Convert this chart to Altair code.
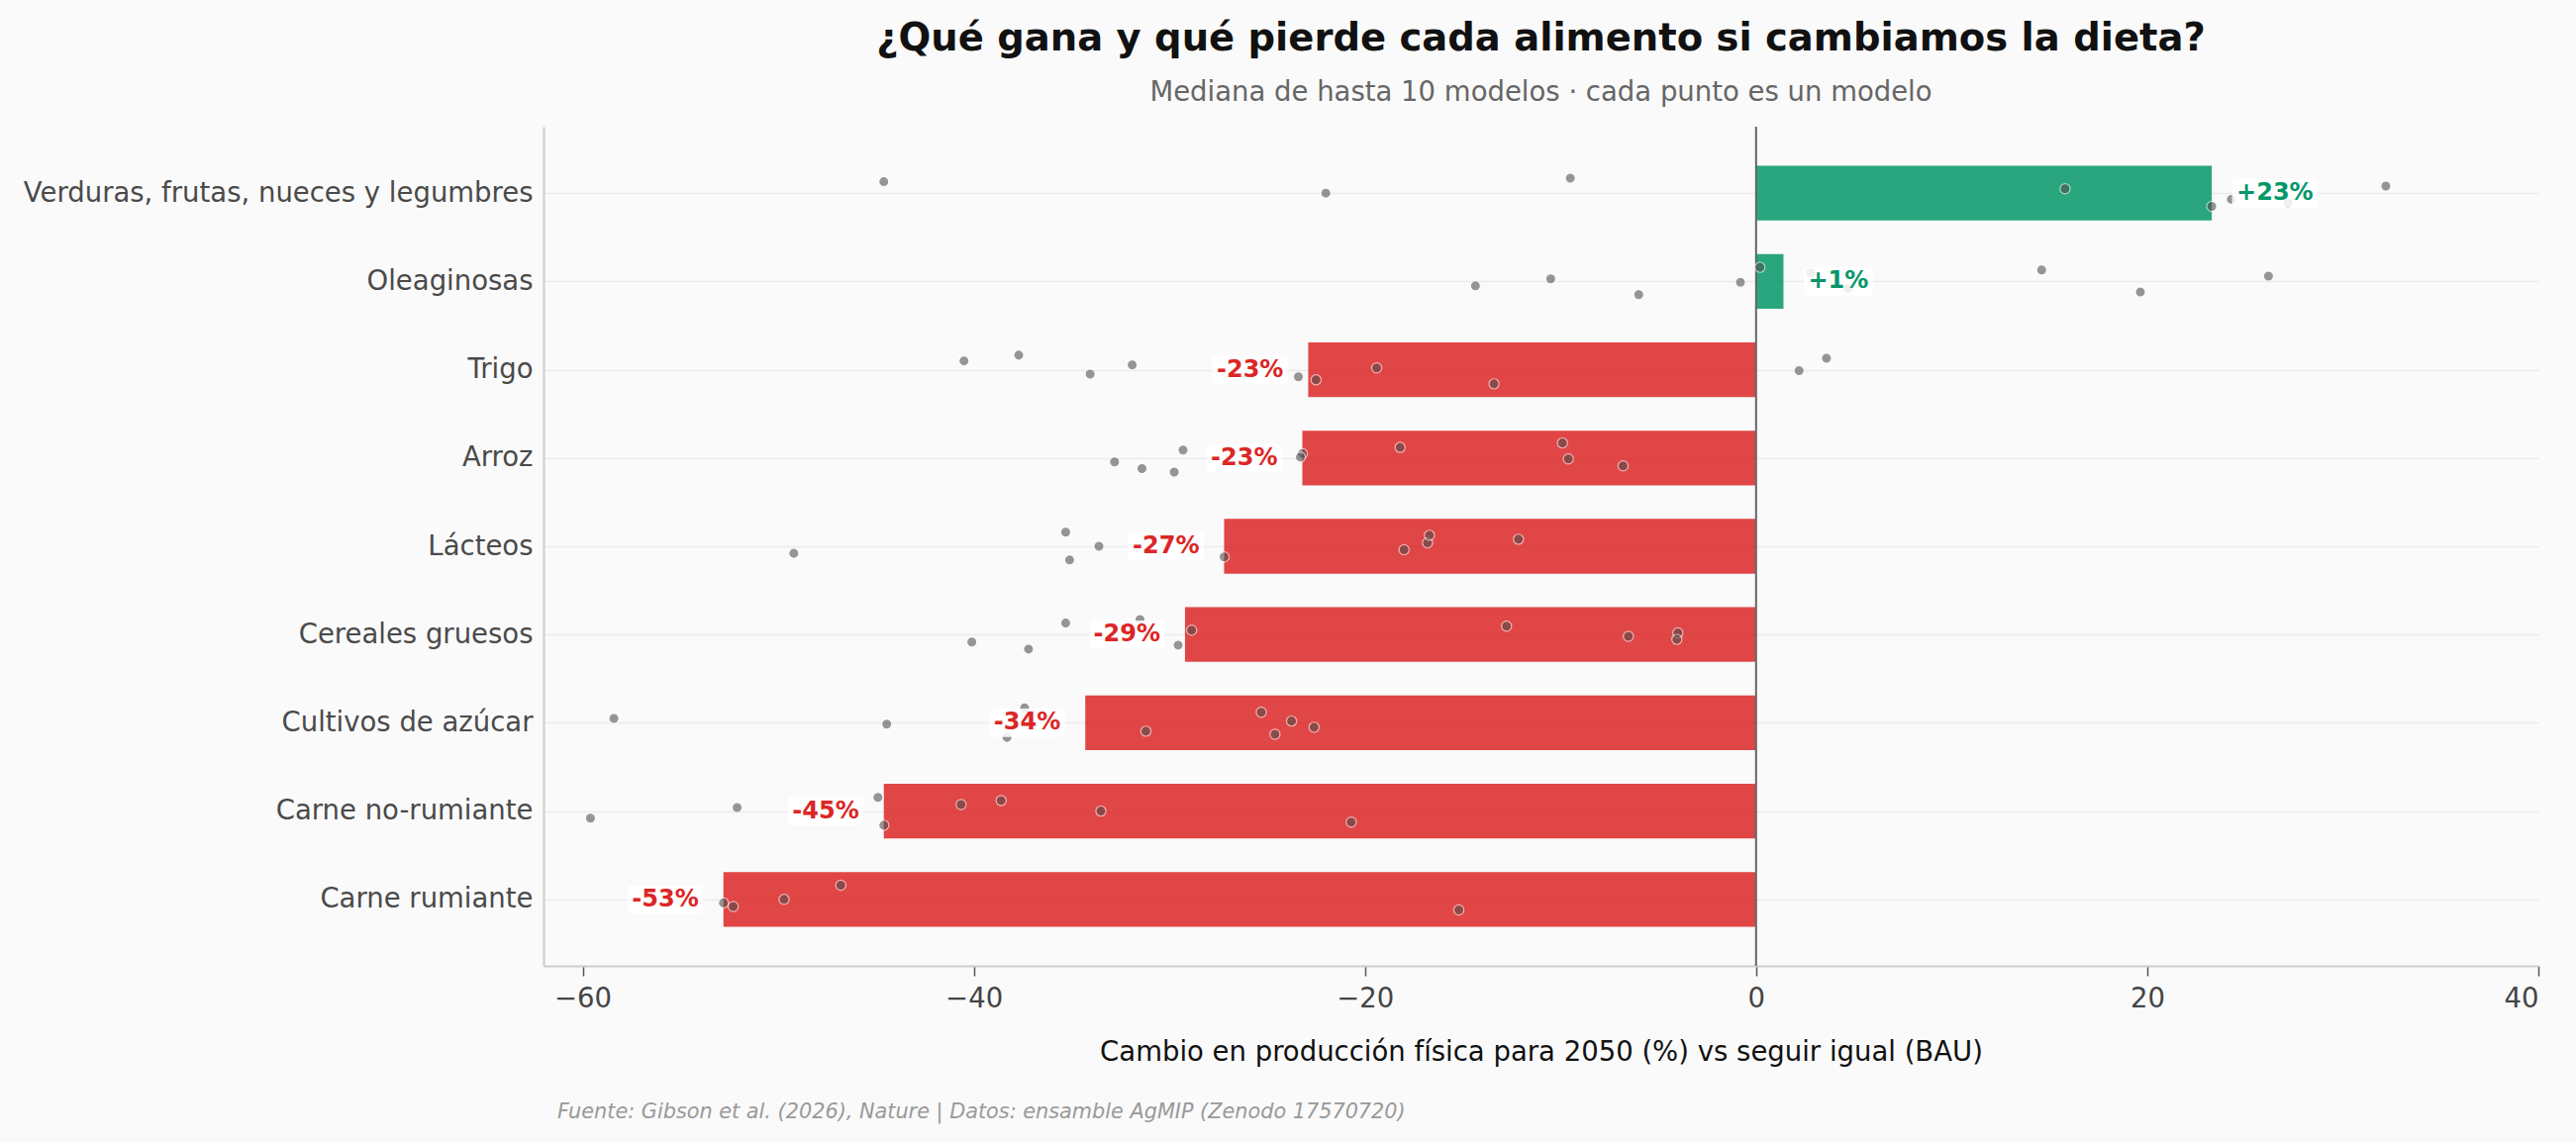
import json

import altair as alt
import pandas as pd

# --- data -----------------------------------------------------------------
categories = [
    "Verduras, frutas, nueces y legumbres",
    "Oleaginosas",
    "Trigo",
    "Arroz",
    "Lácteos",
    "Cereales gruesos",
    "Cultivos de azúcar",
    "Carne no-rumiante",
    "Carne rumiante",
]

# median change in physical production for 2050 (%) vs BAU
median_change = [23.3, 1.4, -22.9, -23.2, -27.2, -29.2, -34.3, -44.6, -52.8]

# individual model results (%) and their vertical jitter (row units)
verduras_models = [-44.6, -22.0, -9.5, 15.8, 23.3, 24.3, 27.2, 32.2]
verduras_jitter = [-0.13, 0.0, -0.17, -0.05, 0.15, 0.07, 0.11, -0.08]

oleaginosas_models = [-14.35, -10.5, -6.0, -0.8, 0.2, 2.8, 4.7, 14.6, 19.65, 26.2]
oleaginosas_jitter = [0.05, -0.03, 0.15, 0.01, -0.16, -0.10, 0.08, -0.13, 0.12, -0.06]

trigo_models = [-40.5, -37.7, -34.05, -31.9, -23.4, -22.5, -19.4, -13.4, 2.2, 3.6]
trigo_jitter = [-0.10, -0.165, 0.05, -0.055, 0.08, 0.115, -0.02, 0.16, 0.01, -0.13]

arroz_models = [-32.8, -31.4, -29.75, -29.3, -23.2, -23.3, -18.2, -9.9, -9.6, -6.8]
arroz_jitter = [0.045, 0.12, 0.16, -0.09, -0.05, -0.01, -0.12, -0.17, 0.01, 0.09]

lacteos_models = [-49.2, -35.3, -35.1, -33.6, -27.2, -18.0, -16.8, -16.7, -12.15]
lacteos_jitter = [0.08, -0.16, 0.155, 0.0, 0.12, 0.04, -0.04, -0.125, -0.08]

cereales_models = [-40.1, -37.2, -35.3, -31.5, -29.55, -28.86, -12.76, -6.53, -4.0, -4.05]
cereales_jitter = [0.085, 0.165, -0.13, -0.17, 0.12, -0.05, -0.095, 0.02, -0.02, 0.055]

azucar_models = [-58.4, -44.45, -37.4, -38.3, -31.2, -25.3, -24.6, -23.75, -22.6]
azucar_jitter = [-0.05, 0.015, -0.17, 0.165, 0.095, -0.12, 0.13, -0.02, 0.05]

no_rumiante_models = [-59.6, -52.1, -44.9, -44.6, -40.65, -38.6, -33.5, -20.7]
no_rumiante_jitter = [0.08, -0.04, -0.155, 0.16, -0.075, -0.12, 0.0, 0.125]

rumiante_models = [-52.8, -52.3, -49.7, -46.8, -15.2]
rumiante_jitter = [0.04, 0.08, 0.0, -0.16, 0.12]

x_ticks = [-60, -40, -20, 0, 20, 40]

TITLE = "¿Qué gana y qué pierde cada alimento si cambiamos la dieta?"
SUBTITLE = "Mediana de hasta 10 modelos · cada punto es un modelo"
X_TITLE = "Cambio en producción física para 2050 (%) vs seguir igual (BAU)"
SOURCE = "Fuente: Gibson et al. (2026), Nature | Datos: ensamble AgMIP (Zenodo 17570720)"

# --- tables ---------------------------------------------------------------
GREEN = "#059669"
RED = "#dc2626"
FONT = "DejaVu Sans"

bars = pd.DataFrame({
    "cat": categories,
    "idx": list(range(len(categories))),
    "median": median_change,
})
bars["dir"] = ["gana" if v >= 0 else "pierde" for v in median_change]
bars["label"] = [f"{round(v):+d}%" for v in median_change]

model_sets = [
    (verduras_models, verduras_jitter),
    (oleaginosas_models, oleaginosas_jitter),
    (trigo_models, trigo_jitter),
    (arroz_models, arroz_jitter),
    (lacteos_models, lacteos_jitter),
    (cereales_models, cereales_jitter),
    (azucar_models, azucar_jitter),
    (no_rumiante_models, no_rumiante_jitter),
    (rumiante_models, rumiante_jitter),
]
points = pd.DataFrame(
    [
        {"idx": i, "value": v, "jitter": j}
        for i, (vals, jit) in enumerate(model_sets)
        for v, j in zip(vals, jit)
    ]
)

# --- scales & axes --------------------------------------------------------
W, H = 2015, 848
BAR_HALF = 0.31

x_scale = alt.Scale(domain=[-62, 40], nice=False, zero=False)
y_scale = alt.Scale(domain=[-0.753, len(categories) - 1 + 0.753], reverse=True,
                    nice=False, zero=False)

label_array = "[" + ",".join(json.dumps(c, ensure_ascii=False) for c in categories) + "]"

x_axis = alt.Axis(
    values=x_ticks,
    title=X_TITLE,
    grid=False,
    tickSize=10,
    tickColor="#555555",
    tickWidth=1.5,
    labelFontSize=27.5,
    labelColor="#444444",
    labelPadding=9,
    domainColor="#cccccc",
    domainWidth=2,
    titleFontSize=27.5,
    titleFontWeight="normal",
    titleColor="#111111",
    titlePadding=27,
)
y_axis = alt.Axis(
    values=list(range(len(categories))),
    labelExpr=f"{label_array}[datum.value]",
    title=None,
    ticks=False,
    grid=True,
    gridColor="#ebebeb",
    gridWidth=1.5,
    labelFontSize=27.5,
    labelColor="#4a4a4a",
    labelPadding=11,
    labelLimit=1000,
    domainColor="#cccccc",
    domainWidth=2,
)

base_bars = alt.Chart(bars)

bar_layer = base_bars.transform_calculate(
    y0=f"datum.idx - {BAR_HALF}", y1=f"datum.idx + {BAR_HALF}", zero="0"
).mark_rect(opacity=0.85).encode(
    x=alt.X("zero:Q", scale=x_scale, axis=x_axis),
    x2="median:Q",
    y=alt.Y("y0:Q", scale=y_scale, axis=y_axis),
    y2="y1:Q",
    color=alt.Color("dir:N", scale=alt.Scale(domain=["gana", "pierde"], range=[GREEN, RED]),
                    legend=None),
)

zero_line = alt.Chart(pd.DataFrame({"z": [0]})).mark_rule(
    color="#666666", strokeWidth=2
).encode(x=alt.X("z:Q", scale=x_scale))

point_layer = alt.Chart(points).transform_calculate(
    ypos="datum.idx + datum.jitter"
).mark_circle(
    size=105, color="#4d4d4d", opacity=0.58, stroke="white", strokeWidth=1.2
).encode(
    x=alt.X("value:Q", scale=x_scale),
    y=alt.Y("ypos:Q", scale=y_scale),
)

# white label boxes, sized from the bold glyph advances of each label
LABEL_SIZE = 24
GAP = 25
PAD = 4.5
BOLD_ADV = {"+": 0.838, "-": 0.415, "%": 1.002}


def text_width(s):
    return sum(BOLD_ADV.get(ch, 0.696) for ch in s) * LABEL_SIZE


box_layers = []
for lab in sorted(set(bars["label"])):
    w = text_width(lab)
    if lab.startswith("-"):
        x_off, x2_off = -(GAP + w + PAD), -(GAP - PAD)
    else:
        x_off, x2_off = GAP - PAD, GAP + w + PAD
    box_layers.append(
        base_bars.transform_filter(alt.datum.label == lab).mark_rect(
            color="white", opacity=0.85, cornerRadius=4,
            xOffset=x_off, x2Offset=x2_off, yOffset=-14.3, y2Offset=14.3,
        ).encode(
            x=alt.X("median:Q", scale=x_scale),
            x2="median:Q",
            y=alt.Y("idx:Q", scale=y_scale),
            y2="idx:Q",
        )
    )

neg_labels = base_bars.transform_filter(alt.datum.median < 0).mark_text(
    align="right", baseline="middle", dx=-GAP, fontSize=LABEL_SIZE,
    fontWeight="bold", color=RED,
).encode(
    x=alt.X("median:Q", scale=x_scale),
    y=alt.Y("idx:Q", scale=y_scale),
    text="label:N",
)
pos_labels = base_bars.transform_filter(alt.datum.median >= 0).mark_text(
    align="left", baseline="middle", dx=GAP, fontSize=LABEL_SIZE,
    fontWeight="bold", color=GREEN,
).encode(
    x=alt.X("median:Q", scale=x_scale),
    y=alt.Y("idx:Q", scale=y_scale),
    text="label:N",
)

source_note = alt.Chart(pd.DataFrame({"t": [SOURCE]})).mark_text(
    align="left", baseline="middle", fontSize=20.8, fontStyle="italic", color="#999999",
).encode(x=alt.value(14), y=alt.value(996), text="t:N")

chart = alt.layer(
    bar_layer, zero_line, point_layer, *box_layers, neg_labels, pos_labels, source_note
).properties(
    width=W,
    height=H,
    title=alt.TitleParams(
        text=TITLE,
        subtitle=SUBTITLE,
        anchor="middle",
        font=FONT,
        fontSize=38.5,
        fontWeight="bold",
        color="#111111",
        subtitleFont=FONT,
        subtitleFontSize=27.5,
        subtitleColor="#666666",
        subtitlePadding=20,
        offset=19,
    ),
    autosize=alt.AutoSizeParams(type="none"),
    padding={"left": 549, "top": 128, "right": 38, "bottom": 179},
    background="#fafafa",
).configure(font=FONT).configure_view(stroke=None)

chart.save("out.html", embed_options={"renderer": "svg", "actions": False})
